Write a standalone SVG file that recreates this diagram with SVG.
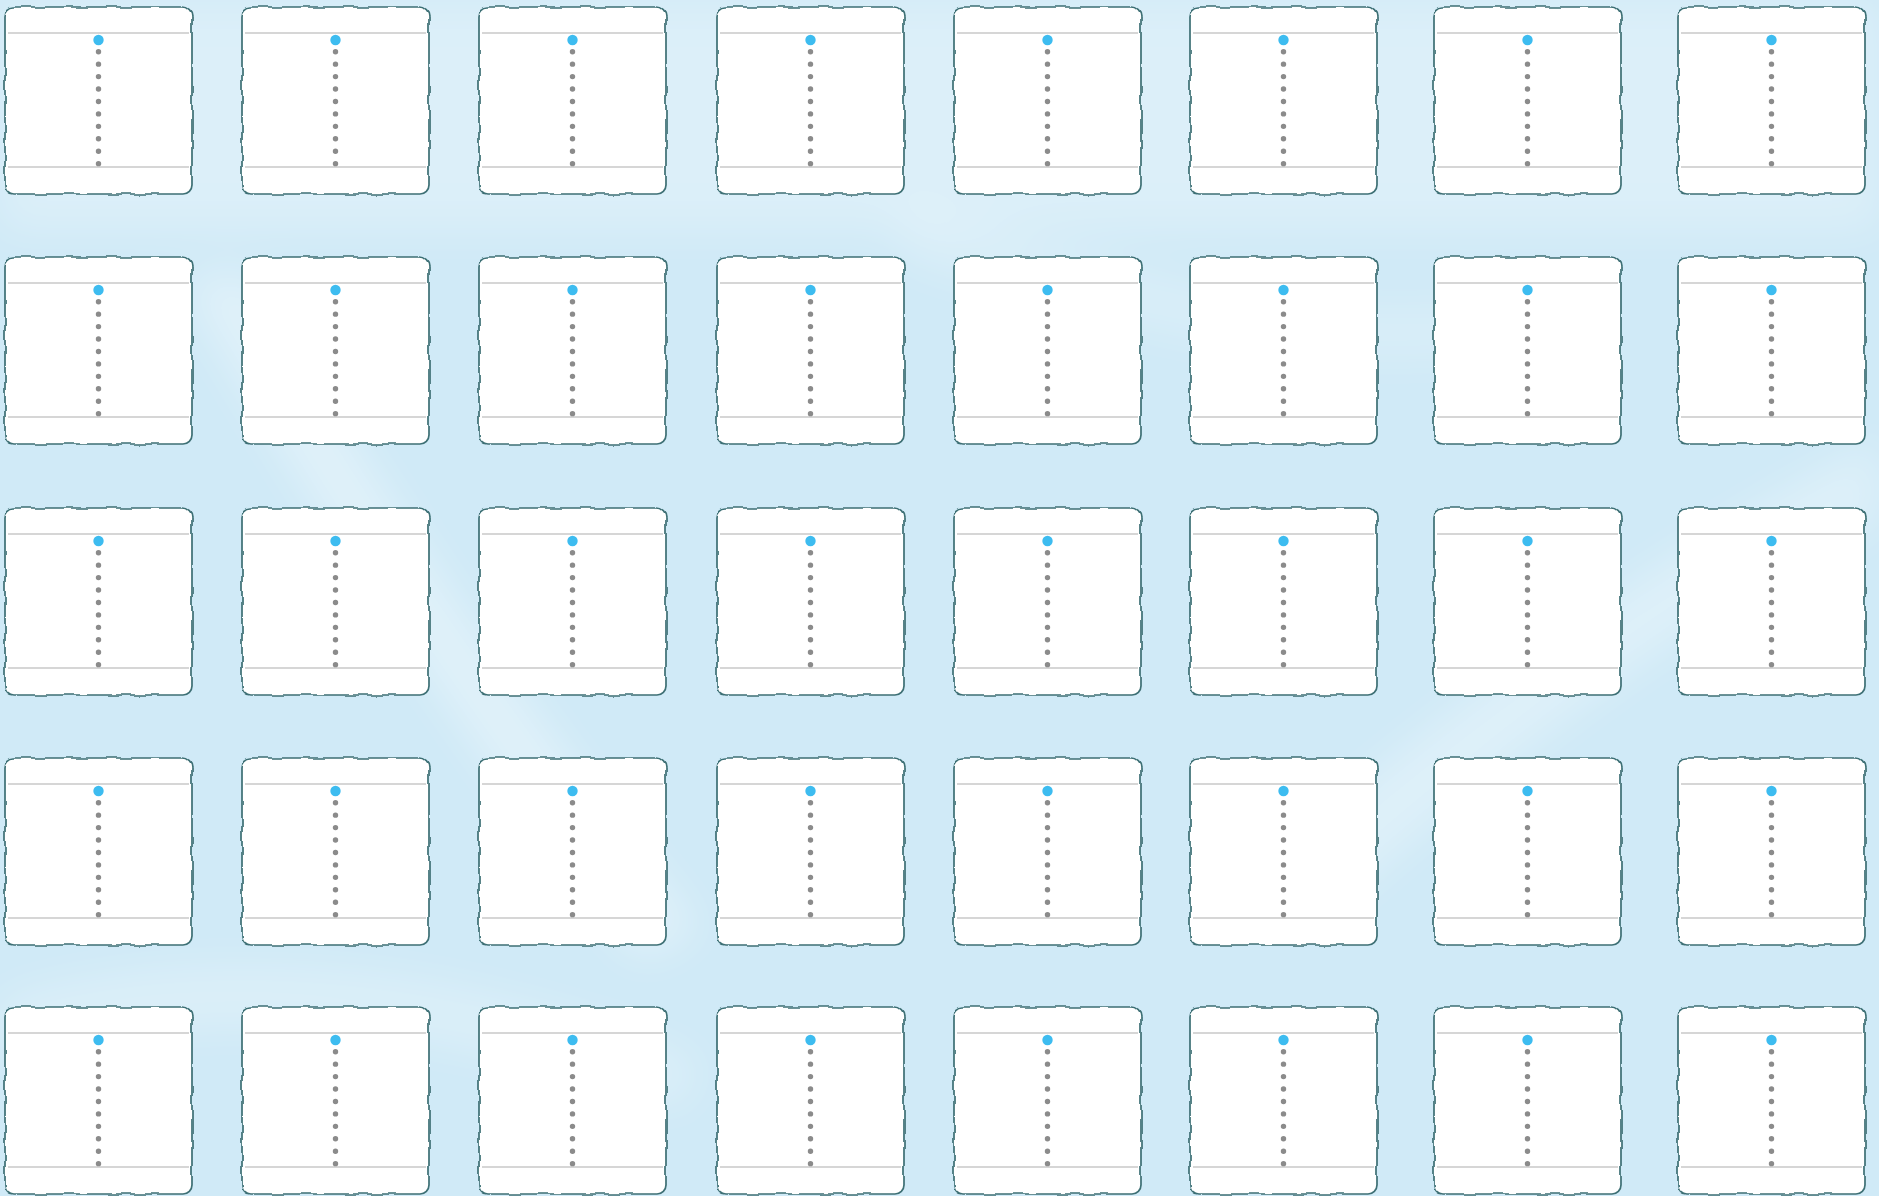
<svg xmlns="http://www.w3.org/2000/svg" xmlns:xlink="http://www.w3.org/1999/xlink" width="1879" height="1196" viewBox="0 0 1879 1196">
<style>
.bg{fill:#d0eaf7}
.frame{fill:#ffffff;stroke:#3d6f74;stroke-width:1.7}
.rule{stroke:#c8c8c8;stroke-width:1.4;fill:none}
.dots{stroke:#8b8b8b;stroke-width:5.4;stroke-linecap:round;stroke-dasharray:0 12.44;fill:none}
.head{fill:#3dbcf0}
</style>
<defs>
<filter id="wobble" x="-6%" y="-6%" width="112%" height="112%">
<feTurbulence type="fractalNoise" baseFrequency="0.07" numOctaves="1" seed="5" result="t"/>
<feDisplacementMap in="SourceGraphic" in2="t" scale="6" xChannelSelector="R" yChannelSelector="G"/>
</filter>
<filter id="soft" x="-30%" y="-30%" width="160%" height="160%">
<feGaussianBlur stdDeviation="22"/>
</filter>
<g id="card">
<rect class="frame" x="0" y="0" width="187" height="187" rx="9" filter="url(#wobble)"/>
<line class="rule" x1="3" y1="26" x2="184" y2="26"/>
<line class="rule" x1="3" y1="160" x2="184" y2="160"/>
<path class="dots" d="M93.5 44.7V157"/>
<circle class="head" cx="93.5" cy="33" r="5.2"/>
</g>
</defs>
<g id="background">
<rect class="bg" x="0" y="0" width="1879" height="1196"/>
<g filter="url(#soft)" fill="#ffffff">
<rect x="0" y="0" width="1879" height="230" opacity="0.25"/>
<path d="M180 280 C 300 480 430 700 640 960 L 700 930 C 500 680 360 460 250 270 Z" opacity="0.35"/>
<path d="M1250 880 C 1450 700 1650 560 1879 440 L 1879 520 C 1680 620 1500 760 1320 920 Z" opacity="0.3"/>
<path d="M0 1000 C 200 940 450 960 700 1060 L 680 1110 C 440 1020 220 1000 0 1060 Z" opacity="0.25"/>
<path d="M900 200 C 1100 260 1300 330 1500 300 L 1500 350 C 1300 380 1100 320 900 260 Z" opacity="0.2"/>
</g>
</g>
<g id="connectors"/>
<g id="nodes">
<g id="r1c1"><use xlink:href="#card" x="5" y="7"/></g>
<g id="r1c2"><use xlink:href="#card" x="242" y="7"/></g>
<g id="r1c3"><use xlink:href="#card" x="479" y="7"/></g>
<g id="r1c4"><use xlink:href="#card" x="717" y="7"/></g>
<g id="r1c5"><use xlink:href="#card" x="954" y="7"/></g>
<g id="r1c6"><use xlink:href="#card" x="1190" y="7"/></g>
<g id="r1c7"><use xlink:href="#card" x="1434" y="7"/></g>
<g id="r1c8"><use xlink:href="#card" x="1678" y="7"/></g>
<g id="r2c1"><use xlink:href="#card" x="5" y="257"/></g>
<g id="r2c2"><use xlink:href="#card" x="242" y="257"/></g>
<g id="r2c3"><use xlink:href="#card" x="479" y="257"/></g>
<g id="r2c4"><use xlink:href="#card" x="717" y="257"/></g>
<g id="r2c5"><use xlink:href="#card" x="954" y="257"/></g>
<g id="r2c6"><use xlink:href="#card" x="1190" y="257"/></g>
<g id="r2c7"><use xlink:href="#card" x="1434" y="257"/></g>
<g id="r2c8"><use xlink:href="#card" x="1678" y="257"/></g>
<g id="r3c1"><use xlink:href="#card" x="5" y="508"/></g>
<g id="r3c2"><use xlink:href="#card" x="242" y="508"/></g>
<g id="r3c3"><use xlink:href="#card" x="479" y="508"/></g>
<g id="r3c4"><use xlink:href="#card" x="717" y="508"/></g>
<g id="r3c5"><use xlink:href="#card" x="954" y="508"/></g>
<g id="r3c6"><use xlink:href="#card" x="1190" y="508"/></g>
<g id="r3c7"><use xlink:href="#card" x="1434" y="508"/></g>
<g id="r3c8"><use xlink:href="#card" x="1678" y="508"/></g>
<g id="r4c1"><use xlink:href="#card" x="5" y="758"/></g>
<g id="r4c2"><use xlink:href="#card" x="242" y="758"/></g>
<g id="r4c3"><use xlink:href="#card" x="479" y="758"/></g>
<g id="r4c4"><use xlink:href="#card" x="717" y="758"/></g>
<g id="r4c5"><use xlink:href="#card" x="954" y="758"/></g>
<g id="r4c6"><use xlink:href="#card" x="1190" y="758"/></g>
<g id="r4c7"><use xlink:href="#card" x="1434" y="758"/></g>
<g id="r4c8"><use xlink:href="#card" x="1678" y="758"/></g>
<g id="r5c1"><use xlink:href="#card" x="5" y="1007"/></g>
<g id="r5c2"><use xlink:href="#card" x="242" y="1007"/></g>
<g id="r5c3"><use xlink:href="#card" x="479" y="1007"/></g>
<g id="r5c4"><use xlink:href="#card" x="717" y="1007"/></g>
<g id="r5c5"><use xlink:href="#card" x="954" y="1007"/></g>
<g id="r5c6"><use xlink:href="#card" x="1190" y="1007"/></g>
<g id="r5c7"><use xlink:href="#card" x="1434" y="1007"/></g>
<g id="r5c8"><use xlink:href="#card" x="1678" y="1007"/></g>
</g>
</svg>
